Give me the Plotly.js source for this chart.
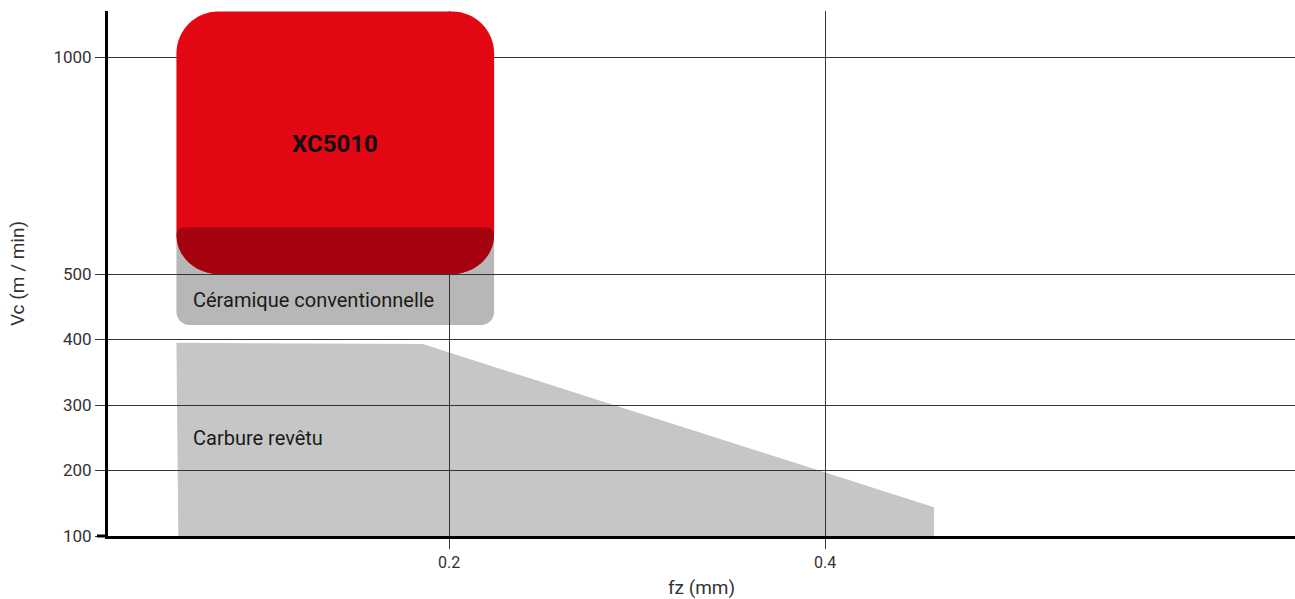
<!DOCTYPE html>
<html>
<head>
<meta charset="utf-8">
<script src="https://cdn.plot.ly/plotly-3.0.1.min.js"></script>
<style>
  html, body { margin: 0; padding: 0; background: #fff; }
  #chart { width: 1295px; height: 599px; }
</style>
</head>
<body>
<div id="chart"></div>
<script>
// ---------- data ----------
const yTickValues = [100, 200, 300, 400, 500, 1000];
const yTickLabels = ["100", "200", "300", "400", "500", "1000"];
const xTickValues = [0.2, 0.4];
const xTickLabels = ["0.2", "0.4"];

// XC5010 area (fz range, Vc range)
const xc5010Fz = [0.055, 0.224];
const xc5010Vc = [500, 1105];

// Céramique conventionnelle area
const ceramicFz = [0.055, 0.224];
const ceramicVc = [422, 608];

// Carbure revêtu polygon
const carbureFz = [0.056, 0.055, 0.186, 0.458, 0.458];
const carbureVc = [100, 395, 393, 144, 100];

// label anchors
const labelNames = ["XC5010", "Céramique conventionnelle", "Carbure revêtu"];
const labelFz = [0.1395, 0.063, 0.063];
const labelVc = [800, 460, 250];

// ---------- broken (piecewise) Vc scale ----------
const BREAK = 500;
const UPPER_FACTOR = 0.6626;   // compression of the scale above 500
function yp(v) { return v <= BREAK ? v : BREAK + (v - BREAK) * UPPER_FACTOR; }

const X_RANGE = [0.0186, 0.65];
const Y_RANGE = [100, yp(1106)];
const PLOT_W = 1187, PLOT_H = 525;
const XU = (X_RANGE[1] - X_RANGE[0]) / PLOT_W;  // data units per px
const YU = (Y_RANGE[1] - Y_RANGE[0]) / PLOT_H;

const KAPPA = 0.5523;
function roundRectPath(x0, x1, y0, y1, rTop, rBot, rBotY) {
  // y0 bottom, y1 top, already in axis (pos) units; radii in px
  const tx = rTop * XU, ty = rTop * YU;
  const bx = rBot * XU, by = (rBotY !== undefined ? rBotY : rBot) * YU;
  const k = KAPPA;
  return [
    `M${x0 + bx},${y0}`,
    `L${x1 - bx},${y0}`,
    `C${x1 - bx + k * bx},${y0} ${x1},${y0 + by - k * by} ${x1},${y0 + by}`,
    `L${x1},${y1 - ty}`,
    `C${x1},${y1 - ty + k * ty} ${x1 - tx + k * tx},${y1} ${x1 - tx},${y1}`,
    `L${x0 + tx},${y1}`,
    `C${x0 + tx - k * tx},${y1} ${x0},${y1 - ty + k * ty} ${x0},${y1 - ty}`,
    `L${x0},${y0 + by}`,
    `C${x0},${y0 + by - k * by} ${x0 + bx - k * bx},${y0} ${x0 + bx},${y0}`,
    'Z'
  ].join(' ');
}
function polyPath(xs, ys) {
  return xs.map((x, i) => (i === 0 ? 'M' : 'L') + x + ',' + yp(ys[i])).join(' ') + ' Z';
}

const RED = '#E30613', DARKRED = '#A5040F', GRAY_CER = '#B7B7B7', GRAY_CARB = '#C6C6C6';
const GRID = '#333333';

const shapes = [
  // carbure polygon (below grid)
  { type: 'path', xref: 'x', yref: 'y', layer: 'below',
    path: polyPath(carbureFz, carbureVc), fillcolor: GRAY_CARB, line: { width: 0 } },
  // ceramic box (below grid)
  { type: 'path', xref: 'x', yref: 'y', layer: 'below',
    path: roundRectPath(ceramicFz[0], ceramicFz[1], yp(ceramicVc[0]), yp(ceramicVc[1]), 13, 13),
    fillcolor: GRAY_CER, line: { width: 0 } },
  // XC5010 box (above grid)
  { type: 'path', xref: 'x', yref: 'y', layer: 'above',
    path: roundRectPath(xc5010Fz[0], xc5010Fz[1], yp(xc5010Vc[0]), yp(xc5010Vc[1]), 42, 42),
    fillcolor: RED, line: { width: 0 } },
  // overlap of ceramic and XC5010
  { type: 'path', xref: 'x', yref: 'y', layer: 'above',
    path: roundRectPath(xc5010Fz[0], xc5010Fz[1], yp(xc5010Vc[0]), yp(ceramicVc[1]), 8, 42, 39),
    fillcolor: DARKRED, line: { width: 0 } },
  // extension of the x axis line to the left
  { type: 'line', xref: 'paper', yref: 'paper', layer: 'above',
    x0: -11 / PLOT_W, x1: 0, y0: 0, y1: 0, line: { color: '#000', width: 3 } }
];

const FONT = 'Roboto, "DejaVu Sans", sans-serif';
const annotations = labelNames.map((t, i) => ({
  xref: 'x', yref: 'y', x: labelFz[i], y: yp(labelVc[i]),
  text: i === 0 ? '<b>' + t + '</b>' : t,
  showarrow: false,
  xanchor: i === 0 ? 'center' : 'left', yanchor: 'middle',
  font: { family: FONT, size: i === 0 ? 24 : 20, color: i === 0 ? '#111' : '#1a1a1a' }
}));

const layout = {
  width: 1295, height: 599,
  margin: { l: 108, r: 0, t: 11, b: 63 },
  paper_bgcolor: '#fff', plot_bgcolor: 'rgba(0,0,0,0)',
  showlegend: false,
  font: { family: FONT, color: '#333', size: 16 },
  xaxis: {
    range: X_RANGE, tickvals: xTickValues, ticktext: xTickLabels,
    showgrid: true, gridcolor: GRID, gridwidth: 1,
    zeroline: false, showline: true, linecolor: '#000', linewidth: 3,
    ticks: 'outside', ticklen: 10, tickcolor: GRID, tickwidth: 1,
    tickfont: { size: 16, color: '#333' },
    title: { text: 'fz (mm)', font: { size: 19, color: '#333' }, standoff: 10 },
    fixedrange: true
  },
  yaxis: {
    range: Y_RANGE, tickvals: yTickValues.map(yp), ticktext: yTickLabels,
    showgrid: true, gridcolor: GRID, gridwidth: 1,
    zeroline: false, showline: true, linecolor: '#000', linewidth: 3,
    ticks: 'outside', ticklen: 10, tickcolor: GRID, tickwidth: 1,
    tickfont: { size: 17, color: '#333' },
    title: { text: 'Vc (m / min)', font: { size: 19, color: '#333' }, standoff: 24 },
    fixedrange: true
  },
  shapes: shapes,
  annotations: annotations
};

const traces = [{ x: [], y: [], type: 'scatter', mode: 'markers', hoverinfo: 'skip', showlegend: false }];

Plotly.newPlot('chart', traces, layout, { displayModeBar: false, staticPlot: true });
</script>
</body>
</html>
